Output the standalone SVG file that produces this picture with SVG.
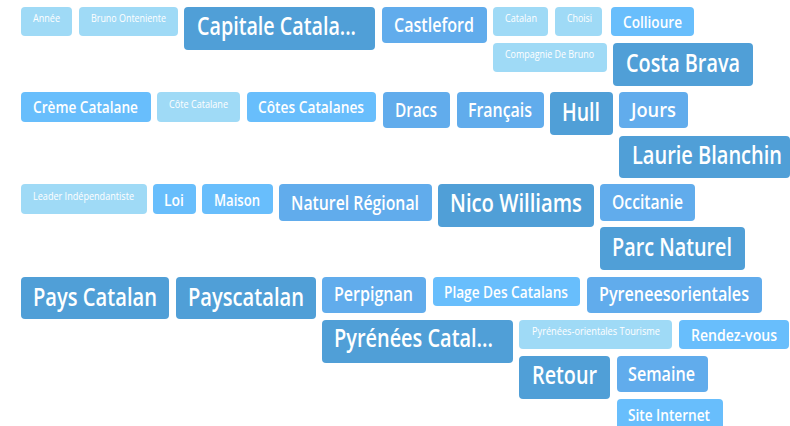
<svg xmlns="http://www.w3.org/2000/svg" width="790" height="426" viewBox="0 0 790 426">
<style>
rect{rx:4px;ry:4px}
.xs rect{fill:#9fdaf6}
.s rect{fill:#68befc}
.m rect{fill:#61acec}
.l rect{fill:#509fd7}
text{fill:#fff;font-family:"Open Sans","Noto Sans",sans-serif;font-weight:600;text-anchor:start}
.xs text{font-size:10px;font-weight:500}
.s text{font-size:16.5px}
.m text{font-size:19px}
.l text{font-size:25px}
</style>
<rect x="0" y="0" width="790" height="426" fill="#fff" rx="0" ry="0"/>
<g id="annee" class="xs"><rect x="21" y="7" width="51" height="29"/><text x="33" y="22" textLength="27" lengthAdjust="spacingAndGlyphs">Année</text></g>
<g id="bruno-onteniente" class="xs"><rect x="79" y="7" width="99" height="29"/><text x="91" y="22" textLength="75" lengthAdjust="spacingAndGlyphs">Bruno Onteniente</text></g>
<g id="capitale-catala" class="l"><rect x="184" y="7" width="191" height="43"/><text x="197" y="35" textLength="159" lengthAdjust="spacingAndGlyphs">Capitale Catala...</text></g>
<g id="castleford" class="m"><rect x="382" y="7" width="105" height="36"/><text x="394" y="32" textLength="80" lengthAdjust="spacingAndGlyphs">Castleford</text></g>
<g id="catalan" class="xs"><rect x="493" y="7" width="55" height="29"/><text x="505" y="22" textLength="32" lengthAdjust="spacingAndGlyphs">Catalan</text></g>
<g id="choisi" class="xs"><rect x="555" y="7" width="47" height="29"/><text x="567" y="22" textLength="25" lengthAdjust="spacingAndGlyphs">Choisi</text></g>
<g id="collioure" class="s"><rect x="611" y="7" width="83" height="29"/><text x="623" y="28" textLength="59" lengthAdjust="spacingAndGlyphs">Collioure</text></g>
<g id="compagnie-de-bruno" class="xs"><rect x="493" y="43" width="114" height="29"/><text x="505" y="58" textLength="89" lengthAdjust="spacingAndGlyphs">Compagnie De Bruno</text></g>
<g id="costa-brava" class="l"><rect x="613" y="43" width="140" height="43"/><text x="626" y="72" textLength="114" lengthAdjust="spacingAndGlyphs">Costa Brava</text></g>
<g id="creme-catalane" class="s"><rect x="21" y="92" width="130" height="30"/><text x="33" y="113" textLength="105" lengthAdjust="spacingAndGlyphs">Crème Catalane</text></g>
<g id="cote-catalane" class="xs"><rect x="157" y="92" width="83" height="30"/><text x="169" y="108" textLength="59" lengthAdjust="spacingAndGlyphs">Côte Catalane</text></g>
<g id="cotes-catalanes" class="s"><rect x="247" y="92" width="129" height="30"/><text x="258" y="113" textLength="106" lengthAdjust="spacingAndGlyphs">Côtes Catalanes</text></g>
<g id="dracs" class="m"><rect x="383" y="92" width="67" height="36"/><text x="395" y="117" textLength="42" lengthAdjust="spacingAndGlyphs">Dracs</text></g>
<g id="francais" class="m"><rect x="457" y="92" width="87" height="36"/><text x="468" y="117" textLength="64" lengthAdjust="spacingAndGlyphs">Français</text></g>
<g id="hull" class="l"><rect x="550" y="92" width="63" height="43"/><text x="562" y="121" textLength="38" lengthAdjust="spacingAndGlyphs">Hull</text></g>
<g id="jours" class="m"><rect x="619" y="92" width="69" height="36"/><text x="631" y="117" textLength="45" lengthAdjust="spacingAndGlyphs">Jours</text></g>
<g id="laurie-blanchin" class="l"><rect x="619" y="136" width="171" height="42"/><text x="632" y="164" textLength="150" lengthAdjust="spacingAndGlyphs">Laurie Blanchin</text></g>
<g id="leader-independantiste" class="xs"><rect x="21" y="184" width="126" height="30"/><text x="33" y="200" textLength="101" lengthAdjust="spacingAndGlyphs">Leader Indépendantiste</text></g>
<g id="loi" class="s"><rect x="153" y="184" width="43" height="30"/><text x="164" y="206" textLength="20" lengthAdjust="spacingAndGlyphs">Loi</text></g>
<g id="maison" class="s"><rect x="202" y="184" width="71" height="30"/><text x="214" y="206" textLength="46" lengthAdjust="spacingAndGlyphs">Maison</text></g>
<g id="naturel-regional" class="m"><rect x="279" y="184" width="153" height="37"/><text x="291" y="210" textLength="128" lengthAdjust="spacingAndGlyphs">Naturel Régional</text></g>
<g id="nico-williams" class="l"><rect x="438" y="184" width="156" height="43"/><text x="450" y="212" textLength="132" lengthAdjust="spacingAndGlyphs">Nico Williams</text></g>
<g id="occitanie" class="m"><rect x="600" y="184" width="95" height="37"/><text x="612" y="209" textLength="71" lengthAdjust="spacingAndGlyphs">Occitanie</text></g>
<g id="parc-naturel" class="l"><rect x="600" y="227" width="145" height="43"/><text x="612" y="256" textLength="120" lengthAdjust="spacingAndGlyphs">Parc Naturel</text></g>
<g id="pays-catalan" class="l"><rect x="21" y="277" width="148" height="42"/><text x="33" y="306" textLength="124" lengthAdjust="spacingAndGlyphs">Pays Catalan</text></g>
<g id="payscatalan" class="l"><rect x="176" y="277" width="140" height="42"/><text x="188" y="306" textLength="116" lengthAdjust="spacingAndGlyphs">Payscatalan</text></g>
<g id="perpignan" class="m"><rect x="322" y="277" width="104" height="36"/><text x="334" y="301" textLength="79" lengthAdjust="spacingAndGlyphs">Perpignan</text></g>
<g id="plage-des-catalans" class="s"><rect x="433" y="277" width="147" height="29"/><text x="444" y="298" textLength="124" lengthAdjust="spacingAndGlyphs">Plage Des Catalans</text></g>
<g id="pyreneesorientales" class="m"><rect x="587" y="277" width="175" height="36"/><text x="599" y="301" textLength="150" lengthAdjust="spacingAndGlyphs">Pyreneesorientales</text></g>
<g id="pyrenees-catal" class="l"><rect x="322" y="320" width="191" height="43"/><text x="334" y="347" textLength="159" lengthAdjust="spacingAndGlyphs">Pyrénées Catal...</text></g>
<g id="pyrenees-orientales-tourisme" class="xs"><rect x="519" y="320" width="153" height="29"/><text x="532" y="335" textLength="128" lengthAdjust="spacingAndGlyphs">Pyrénées-orientales Tourisme</text></g>
<g id="rendez-vous" class="s"><rect x="679" y="320" width="110" height="29"/><text x="691" y="341" textLength="86" lengthAdjust="spacingAndGlyphs">Rendez-vous</text></g>
<g id="retour" class="l"><rect x="519" y="356" width="91" height="43"/><text x="532" y="384" textLength="65" lengthAdjust="spacingAndGlyphs">Retour</text></g>
<g id="semaine" class="m"><rect x="617" y="356" width="91" height="36"/><text x="628" y="381" textLength="67" lengthAdjust="spacingAndGlyphs">Semaine</text></g>
<g id="site-internet" class="s"><rect x="617" y="399" width="106" height="36"/><text x="628" y="421" textLength="82" lengthAdjust="spacingAndGlyphs">Site Internet</text></g>
<g id="connectors"/>
</svg>
